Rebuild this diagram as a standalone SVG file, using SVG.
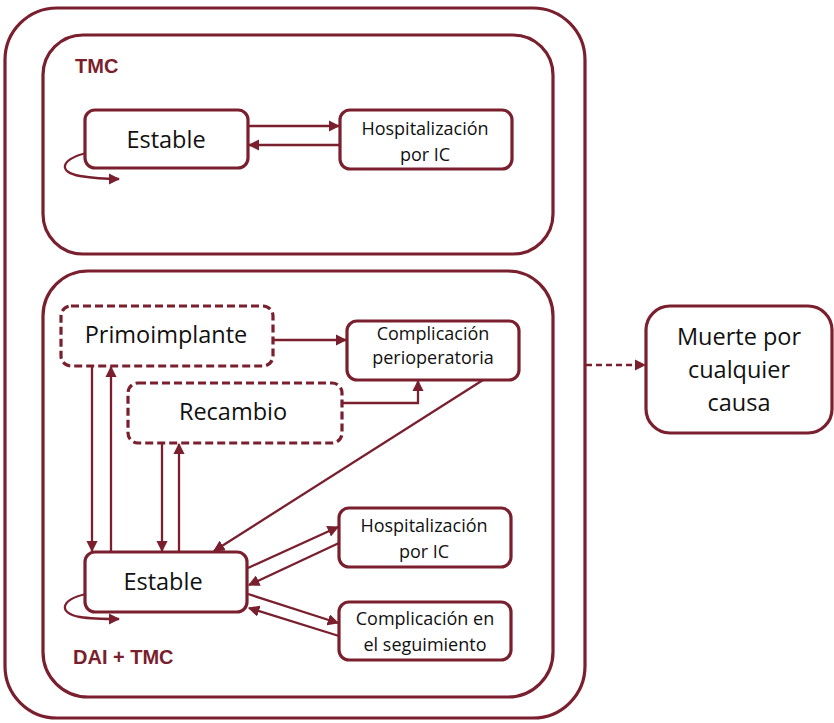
<svg xmlns="http://www.w3.org/2000/svg" width="834" height="723" viewBox="0 0 834 723">
<style>
.frame{fill:none;stroke:#7a1f2e;stroke-width:3.2}
.box{fill:#fff;stroke:#7a1f2e;stroke-width:3.2}
.dbox{fill:#fff;stroke:#7a1f2e;stroke-width:3.2;stroke-dasharray:8 4}
.lbl{font-family:"Liberation Sans",Arial,sans-serif;font-weight:bold;font-size:20px;fill:#7a1f2e}
.t{font-family:"Open Sans","Noto Sans",sans-serif;fill:#111;text-anchor:middle}
.big{font-size:23.5px}
.sm{font-size:18px}
.c{fill:none;stroke:#7a1f2e;stroke-width:2.3}
</style>
<defs>
<marker id="ah" viewBox="0 0 10 10" refX="9" refY="5" markerWidth="5" markerHeight="5" orient="auto" markerUnits="strokeWidth">
<path d="M0,0 L10,5 L0,10 z" fill="#7a1f2e"/>
</marker>
</defs>
<g id="outer"><rect class="frame" x="5" y="8" width="580" height="710" rx="52"/></g>
<g id="tmc-group">
<rect class="frame" x="43" y="35" width="510" height="219" rx="40"/>
<text class="lbl" x="75" y="73">TMC</text>
</g>
<g id="dai-group">
<rect class="frame" x="43" y="271" width="510" height="426" rx="45"/>
<text class="lbl" x="73" y="664">DAI + TMC</text>
</g>
<g id="estable-tmc">
<rect class="box" x="85" y="110" width="163" height="58" rx="10"/>
<text class="t big" x="166" y="148">Estable</text>
</g>
<g id="hosp-tmc">
<rect class="box" x="340" y="110" width="172" height="59" rx="10"/>
<text class="t sm" x="425" y="135">Hospitalización</text>
<text class="t sm" x="425" y="161">por IC</text>
</g>
<g id="primoimplante">
<rect class="dbox" x="61" y="306" width="212" height="60" rx="10"/>
<text class="t big" x="166" y="343">Primoimplante</text>
</g>
<g id="comp-periop">
<rect class="box" x="347" y="321" width="172" height="59" rx="10"/>
<text class="t sm" x="433" y="340">Complicación</text>
<text class="t sm" x="433" y="364">perioperatoria</text>
</g>
<g id="recambio">
<rect class="dbox" x="128" y="383" width="214" height="60" rx="10"/>
<text class="t big" x="233" y="420">Recambio</text>
</g>
<g id="estable-dai">
<rect class="box" x="85" y="552" width="162" height="60" rx="10"/>
<text class="t big" x="163" y="590">Estable</text>
</g>
<g id="hosp-dai">
<rect class="box" x="339" y="508" width="172" height="59" rx="10"/>
<text class="t sm" x="424" y="532">Hospitalización</text>
<text class="t sm" x="424" y="558">por IC</text>
</g>
<g id="comp-seg">
<rect class="box" x="339" y="602" width="172" height="58" rx="10"/>
<text class="t sm" x="425" y="625">Complicación en</text>
<text class="t sm" x="425" y="651">el seguimiento</text>
</g>
<g id="muerte">
<rect class="box" x="646" y="306" width="186" height="127" rx="24"/>
<text class="t big" x="739" y="345">Muerte por</text>
<text class="t big" x="739" y="378">cualquier</text>
<text class="t big" x="739" y="411">causa</text>
</g>
<g id="connectors">
<line class="c" x1="248" y1="126" x2="339" y2="126" marker-end="url(#ah)"/>
<line class="c" x1="340" y1="145" x2="249" y2="145" marker-end="url(#ah)"/>
<path class="c" d="M86,153 C60,160 58,172 80,176 C92,178 105,179 119,179" marker-end="url(#ah)"/>
<line class="c" x1="273" y1="340" x2="346" y2="340" marker-end="url(#ah)"/>
<path class="c" d="M342,403 H418 V381" marker-end="url(#ah)"/>
<line class="c" x1="483" y1="380" x2="214" y2="551" marker-end="url(#ah)"/>
<line class="c" x1="92" y1="366" x2="92" y2="551" marker-end="url(#ah)"/>
<line class="c" x1="111" y1="552" x2="111" y2="367" marker-end="url(#ah)"/>
<line class="c" x1="162" y1="443" x2="162" y2="551" marker-end="url(#ah)"/>
<line class="c" x1="179" y1="552" x2="179" y2="444" marker-end="url(#ah)"/>
<line class="c" x1="248" y1="568" x2="338" y2="527" marker-end="url(#ah)"/>
<line class="c" x1="339" y1="543" x2="249" y2="585" marker-end="url(#ah)"/>
<line class="c" x1="248" y1="594" x2="338" y2="623" marker-end="url(#ah)"/>
<line class="c" x1="339" y1="636" x2="249" y2="608" marker-end="url(#ah)"/>
<path class="c" d="M86,594 C60,600 58,613 80,617 C92,619 105,619 119,619" marker-end="url(#ah)"/>
<line class="c" x1="586" y1="365" x2="645" y2="365" stroke-dasharray="6 4" marker-end="url(#ah)"/>
</g>
</svg>
